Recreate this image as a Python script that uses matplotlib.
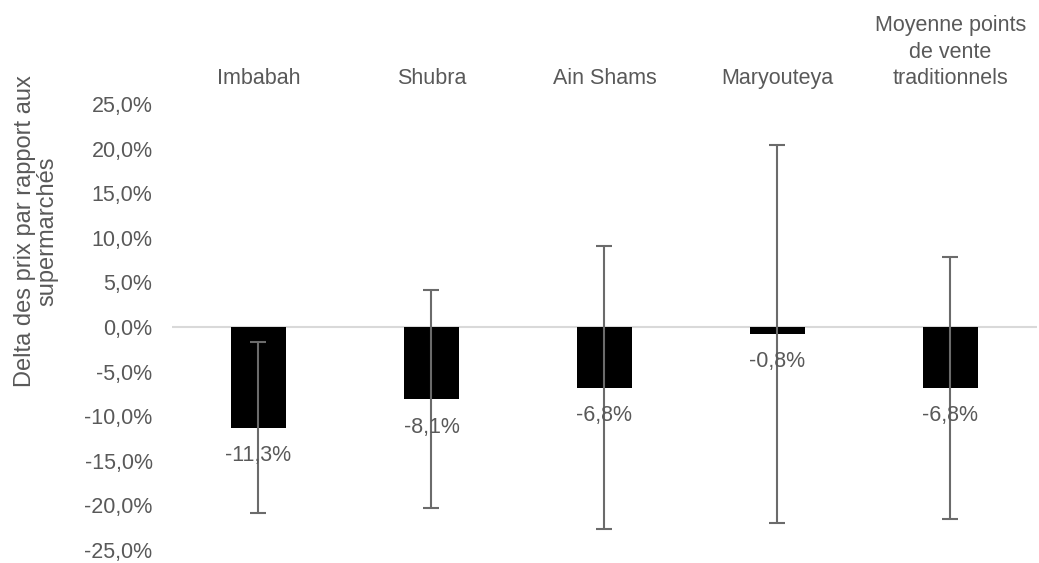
import matplotlib.pyplot as plt
import numpy as np

CATEGORIES = ["Imbabah", "Shubra", "Ain Shams", "Maryouteya",
              "Moyenne points\nde vente\ntraditionnels"]
DELTA = [-11.3, -8.1, -6.8, -0.8, -6.8]  # % vs supermarkets
ERROR = [9.6, 12.2, 15.85, 21.2, 14.7]  # +/- spread, %
Y_TICKS = [-25, -20, -15, -10, -5, 0, 5, 10, 15, 20, 25]

TEXT_COLOR = "#595959"
ERR_COLOR = "#6b6b6b"
FS = 15.5

plt.rcParams["font.family"] = ["Liberation Sans", "DejaVu Sans"]

fig = plt.figure(figsize=(10.39, 5.63), dpi=100)
ax = fig.add_axes([0.1655, 0.0231, 0.8325, 0.7922])

x = np.arange(len(CATEGORIES))
ax.bar(x, DELTA, width=0.32, color="black", zorder=2)
ax.errorbar(x, DELTA, yerr=ERROR, fmt="none", ecolor=ERR_COLOR,
            elinewidth=1.5, capsize=6, capthick=1.5, zorder=3)
ax.axhline(0, color="#d9d9d9", linewidth=1.5, zorder=1)

# data labels below each bar
for xi, val in zip(x, DELTA):
    ax.annotate(f"{val:.1f}%".replace(".", ","), (xi, val),
                xytext=(0, -20), textcoords="offset points",
                ha="center", va="center", fontsize=FS, color=TEXT_COLOR,
                zorder=4)

ax.set_xlim(-0.5, len(CATEGORIES) - 0.5)
ax.set_ylim(-25, 25)
ax.set_yticks(Y_TICKS)
ax.set_yticklabels([f"{t:.1f}%".replace(".", ",") for t in Y_TICKS])
ax.xaxis.tick_top()
ax.set_xticks(x)
ax.set_xticklabels(CATEGORIES, linespacing=1.32)
ax.tick_params(axis="x", length=0, pad=11, labelsize=FS, colors=TEXT_COLOR)
ax.tick_params(axis="y", length=0, pad=14, labelsize=FS, colors=TEXT_COLOR)
for spine in ax.spines.values():
    spine.set_visible(False)

fig.text(0.035, 0.589, "Delta des prix par rapport aux\nsupermarchés",
         rotation=90, ha="center", va="center", fontsize=17,
         color=TEXT_COLOR, linespacing=1.0)

fig.savefig("out.png", dpi=100)
